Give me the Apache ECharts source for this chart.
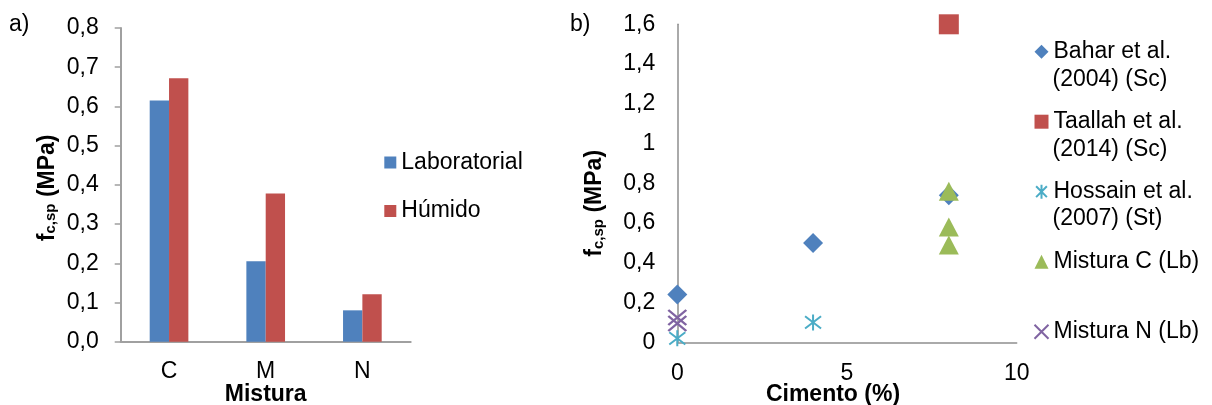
<!DOCTYPE html>
<html>
<head>
<meta charset="utf-8">
<script src="https://cdn.jsdelivr.net/npm/echarts@6/dist/echarts.min.js"></script>
<style>
  html, body { margin: 0; padding: 0; background: #fff; }
  #chart { width: 1212px; height: 405px; }
</style>
</head>
<body>
<div id="chart"></div>
<script>
// a) splitting tensile strength per mixture
const categories = ['C', 'M', 'N'];
const laboratorial = [0.615, 0.205, 0.080];
const humido = [0.672, 0.378, 0.121];
const leftTicks = { min: 0, max: 0.8, interval: 0.1 };

// b) strength against cement content, [cement %, MPa]
const bahar = [[0, 0.24], [4, 0.50], [8, 0.74]];
const taallah = [[8, 1.60]];
const hossain = [[0, 0.02], [4, 0.10]];
const misturaC = [[8, 0.76], [8, 0.58], [8, 0.49]];
const misturaN = [[0, 0.125], [0, 0.095]];
const rightXTicks = { min: 0, max: 10, interval: 5 };
const rightYTicks = { min: 0, max: 1.6, interval: 0.2 };

const FONT = '"Liberation Sans", Arial, sans-serif';
const FS = 23;
const BLUE = '#4F81BD', RED = '#C0504D', GREEN = '#9BBB59', PURPLE = '#8064A2', CYAN = '#4BACC6';

const X_PATH = 'path://M0,0L10,10M10,0L0,10';
const STAR_PATH = 'path://M0,0L10,10M10,0L0,10M5,-1.5L5,11.5';

const titleRich = {
  m: { fontFamily: FONT, fontSize: FS, fontWeight: 'bold', color: '#000', verticalAlign: 'bottom', lineHeight: 26 },
  s: { fontFamily: FONT, fontSize: 15, fontWeight: 'bold', color: '#000', verticalAlign: 'bottom', lineHeight: 13 }
};
const yTitle = '{m|f}{s|c,sp}{m| (MPa)}';

const fmtComma = (v, d) => (d === undefined ? String(parseFloat(v.toFixed(2))) : v.toFixed(d)).replace('.', ',');

const legendText = { fontFamily: FONT, fontSize: FS, color: '#000', lineHeight: 28 };
const noteStyle = { fontFamily: FONT, fontSize: FS, fill: '#000', lineHeight: 28 };

const chart = echarts.init(document.getElementById('chart'), null, { renderer: 'canvas' });

chart.setOption({
  animation: false,
  backgroundColor: '#fff',
  textStyle: { fontFamily: FONT },
  grid: [
    { left: 120.7, top: 28, width: 290, height: 313.7, containLabel: false, outerBoundsMode: 'none' },
    { left: 677.3, top: 24.3, width: 339.4, height: 318, containLabel: false, outerBoundsMode: 'none' }
  ],
  xAxis: [
    {
      type: 'category', gridIndex: 0, data: categories,
      axisLine: { lineStyle: { color: '#a0a0a0', width: 2 } },
      axisTick: { show: false },
      axisLabel: { fontFamily: FONT, fontSize: FS, color: '#000', margin: 18 },
      name: 'Mistura', nameLocation: 'middle', nameGap: 41, nameMoveOverlap: false,
      nameTextStyle: { fontFamily: FONT, fontSize: FS, fontWeight: 'bold', color: '#000' }
    },
    {
      type: 'value', gridIndex: 1,
      min: rightXTicks.min, max: rightXTicks.max, interval: rightXTicks.interval,
      splitLine: { show: false },
      axisLine: { onZero: false, lineStyle: { color: '#8e8e8e', width: 1.5 } },
      axisTick: { show: false },
      axisLabel: { fontFamily: FONT, fontSize: FS, color: '#000', margin: 20, formatter: v => fmtComma(v) },
      name: 'Cimento (%)', nameLocation: 'middle', nameGap: 41, nameMoveOverlap: false,
      nameTextStyle: { fontFamily: FONT, fontSize: FS, fontWeight: 'bold', color: '#000', padding: [0, 28, 0, 0] }
    }
  ],
  yAxis: [
    {
      type: 'value', gridIndex: 0,
      min: leftTicks.min, max: leftTicks.max, interval: leftTicks.interval,
      splitLine: { show: false },
      axisLine: { show: true, lineStyle: { color: '#a0a0a0', width: 2 } },
      axisTick: { show: true, length: 6, lineStyle: { color: '#a0a0a0', width: 1.5 } },
      axisLabel: { fontFamily: FONT, fontSize: FS, color: '#000', margin: 22, formatter: v => fmtComma(v, 1) },
      name: yTitle, nameLocation: 'middle', nameGap: 62,
      nameTextStyle: { rich: titleRich, padding: [0, 6, 0, 0] }
    },
    {
      type: 'value', gridIndex: 1,
      min: rightYTicks.min, max: rightYTicks.max, interval: rightYTicks.interval,
      splitLine: { show: false },
      axisLine: { show: true, onZero: false, lineStyle: { color: '#8e8e8e', width: 1.5 } },
      axisTick: { show: false },
      axisLabel: { fontFamily: FONT, fontSize: FS, color: '#000', margin: 22, formatter: v => fmtComma(v) },
      name: yTitle, nameLocation: 'middle', nameGap: 71,
      nameTextStyle: { rich: titleRich, padding: [0, 40, 0, 0] }
    }
  ],
  legend: [
    {
      orient: 'vertical', left: 384.3, top: 148.5, padding: 0,
      itemWidth: 12, itemHeight: 12, itemGap: 20.5,
      icon: 'rect',
      textStyle: legendText,
      data: ['Laboratorial', 'Húmido']
    },
    {
      orient: 'vertical', left: 1033.5, top: 37.7, padding: 0,
      itemWidth: 14, itemHeight: 14, itemGap: 42,
      textStyle: legendText,
      formatter: name => name.indexOf('Mistura') === 0 ? name : name.split(' (')[0],
      data: ['Bahar et al. (2004) (Sc)', 'Taallah et al. (2014) (Sc)', 'Hossain et al. (2007) (St)', 'Mistura C (Lb)', 'Mistura N (Lb)']
    }
  ],
  graphic: [
    { type: 'text', left: 9, top: 11, style: { text: 'a)', fontFamily: FONT, fontSize: FS, fill: '#000', lineHeight: 28 } },
    { type: 'text', left: 570, top: 11, style: { text: 'b)', fontFamily: FONT, fontSize: FS, fill: '#000', lineHeight: 28 } },
    { type: 'text', left: 1052.5, top: 66, style: Object.assign({ text: '(2004) (Sc)' }, noteStyle) },
    { type: 'text', left: 1052.5, top: 136, style: Object.assign({ text: '(2014) (Sc)' }, noteStyle) },
    { type: 'text', left: 1052.5, top: 204.3, style: Object.assign({ text: '(2007) (St)' }, noteStyle) }
  ],
  series: [
    {
      name: 'Laboratorial', type: 'bar', xAxisIndex: 0, yAxisIndex: 0,
      data: laboratorial, barGap: '0%', barCategoryGap: '60%',
      itemStyle: { color: BLUE }
    },
    {
      name: 'Húmido', type: 'bar', xAxisIndex: 0, yAxisIndex: 0,
      data: humido, barGap: '0%', barCategoryGap: '60%',
      itemStyle: { color: RED }
    },
    {
      name: 'Bahar et al. (2004) (Sc)', type: 'scatter', xAxisIndex: 1, yAxisIndex: 1,
      data: bahar, symbol: 'diamond', symbolSize: 20,
      itemStyle: { color: BLUE, opacity: 1 }
    },
    {
      name: 'Taallah et al. (2014) (Sc)', type: 'scatter', xAxisIndex: 1, yAxisIndex: 1,
      data: taallah, symbol: 'rect', symbolSize: 20,
      itemStyle: { color: RED, opacity: 1 }
    },
    {
      name: 'Hossain et al. (2007) (St)', type: 'scatter', xAxisIndex: 1, yAxisIndex: 1,
      data: hossain, symbol: STAR_PATH, symbolSize: 16,
      itemStyle: { color: 'transparent', borderColor: CYAN, borderWidth: 2, opacity: 1 }
    },
    {
      name: 'Mistura C (Lb)', type: 'scatter', xAxisIndex: 1, yAxisIndex: 1,
      data: misturaC, symbol: 'triangle', symbolSize: [20, 19],
      itemStyle: { color: GREEN, opacity: 1 }
    },
    {
      name: 'Mistura N (Lb)', type: 'scatter', xAxisIndex: 1, yAxisIndex: 1,
      data: misturaN, symbol: X_PATH, symbolSize: [18, 15],
      itemStyle: { color: 'transparent', borderColor: PURPLE, borderWidth: 2.2, opacity: 1 }
    }
  ]
});
</script>
</body>
</html>
